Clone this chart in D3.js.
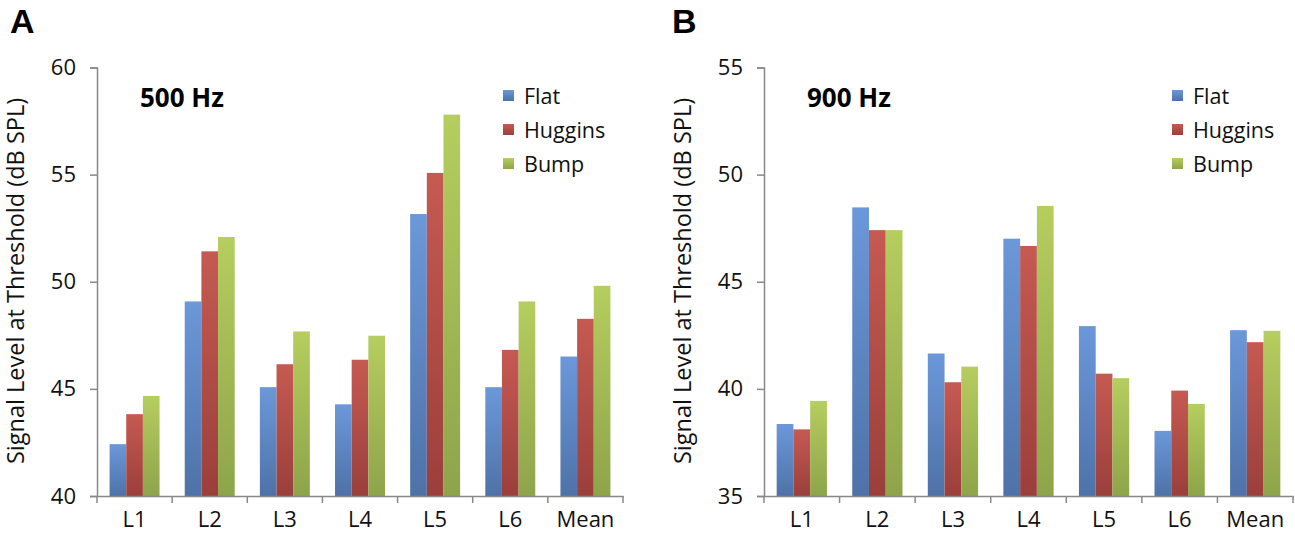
<!DOCTYPE html>
<html><head><meta charset="utf-8">
<script src="https://cdn.jsdelivr.net/npm/d3@7"></script>
<style>body{margin:0;background:#fff}svg{display:block}</style>
</head><body>
<svg id="c" width="1295" height="543"></svg>
<script>
const categories = ["L1","L2","L3","L4","L5","L6","Mean"];
const seriesNames = ["Flat","Huggins","Bump"];
const a_flat    = [42.42, 49.08, 45.08, 44.28, 53.16, 45.08, 46.51];
const a_huggins = [43.82, 51.42, 46.15, 46.36, 55.08, 46.82, 48.27];
const a_bump    = [44.67, 52.09, 47.68, 47.48, 57.80, 49.08, 49.81];
const b_flat    = [38.36, 48.47, 41.65, 47.01, 42.93, 38.04, 42.74];
const b_huggins = [38.11, 47.41, 40.31, 46.67, 40.71, 39.92, 42.18];
const b_bump    = [39.44, 47.41, 41.04, 48.54, 40.50, 39.30, 42.71];
const a_ticks = [40,45,50,55,60];
const b_ticks = [35,40,45,50,55];

const svg = d3.select("#c");
const font = "'Open Sans', Lato, sans-serif";
const defs = svg.append("defs");
const grads = [
  {id:"gFlat", top:"#6b98da", bot:"#4e72a8"},
  {id:"gHug",  top:"#c55a52", bot:"#9b3f3b"},
  {id:"gBump", top:"#b6cd5f", bot:"#8ea44a"}
];
grads.forEach(g=>{
  const lg = defs.append("linearGradient").attr("id",g.id).attr("x1",0).attr("y1",0).attr("x2",0).attr("y2",1);
  lg.append("stop").attr("offset","0%").attr("stop-color",g.top);
  lg.append("stop").attr("offset","100%").attr("stop-color",g.bot);
});

function panel(opts){
  const {letter, letterX, x0, x1, domain, ticks, series, title, titleX, legendX} = opts;
  const yTop = 67.5, yBot = 496;
  const y = d3.scaleLinear().domain(domain).range([yBot, yTop]);
  const x = d3.scaleBand().domain(categories).range([x0, x1]).paddingInner(0.335).paddingOuter(0.1675);
  const xs = d3.scaleBand().domain(seriesNames).range([0, x.bandwidth()]);
  const g = svg.append("g");

  g.append("text").attr("x", letterX).attr("y", 33).text(letter)
    .attr("font-family","Arial, 'Liberation Sans', sans-serif").attr("font-weight","bold").attr("font-size",34).attr("fill","#000");

  const cats = d3.scaleBand().domain(categories).range([x0, x1]);
  categories.forEach((c,i)=>{
    seriesNames.forEach((s,j)=>{
      const v = series[j][i];
      g.append("rect").attr("x", x(c)+xs(s)).attr("width", xs.bandwidth())
        .attr("y", y(v)).attr("height", yBot - y(v))
        .attr("fill", `url(#${grads[j].id})`);
    });
  });

  const ya = d3.axisLeft(y).tickValues(ticks).tickSize(7).tickPadding(14).tickFormat(d3.format("d"));
  const yg = g.append("g").attr("transform",`translate(${x0},0)`).call(ya);
  yg.select(".domain").attr("stroke","#888").attr("stroke-width",1.5);
  yg.selectAll(".tick line").attr("stroke","#888").attr("stroke-width",1.5);
  yg.selectAll(".tick text").attr("font-family",font).attr("font-size",22).attr("fill","#111");

  const xa = d3.axisBottom(cats).tickSize(0).tickPadding(15);
  const xg = g.append("g").attr("transform",`translate(0,${yBot})`).call(xa);
  xg.select(".domain").attr("stroke","#888").attr("stroke-width",1.5);
  xg.selectAll(".tick text").attr("font-family",font).attr("font-size",22).attr("fill","#111");
  const bounds = categories.map(c=>cats(c)).concat([x1]);
  xg.selectAll("line.bt").data(bounds).enter().append("line").attr("class","bt")
    .attr("x1",d=>d).attr("x2",d=>d).attr("y1",0).attr("y2",7)
    .attr("stroke","#888").attr("stroke-width",1.5);

  g.append("text").attr("transform",`translate(${x0-73},${281}) rotate(-90)`)
    .attr("text-anchor","middle").attr("font-family",font).attr("font-size",23.5).attr("fill","#111")
    .text("Signal Level at Threshold (dB SPL)");

  g.append("text").attr("x", titleX).attr("y", 107).text(title)
    .attr("font-family",font).attr("font-weight","bold").attr("font-size",26).attr("fill","#000");

  seriesNames.forEach((s,j)=>{
    const cy = 96 + j*34;
    g.append("rect").attr("x", legendX).attr("y", cy-6).attr("width",11).attr("height",11)
      .attr("fill", `url(#${grads[j].id})`);
    g.append("text").attr("x", legendX+21).attr("y", cy+8).text(s)
      .attr("font-family",font).attr("font-size",21.5).attr("fill","#111");
  });
}

panel({letter:"A", letterX:10, x0:97, x1:623, domain:[40,60], ticks:a_ticks,
  series:[a_flat,a_huggins,a_bump], title:"500 Hz", titleX:140, legendX:503});
panel({letter:"B", letterX:672, x0:764, x1:1293, domain:[35,55], ticks:b_ticks,
  series:[b_flat,b_huggins,b_bump], title:"900 Hz", titleX:807, legendX:1172});
</script>
</body></html>
